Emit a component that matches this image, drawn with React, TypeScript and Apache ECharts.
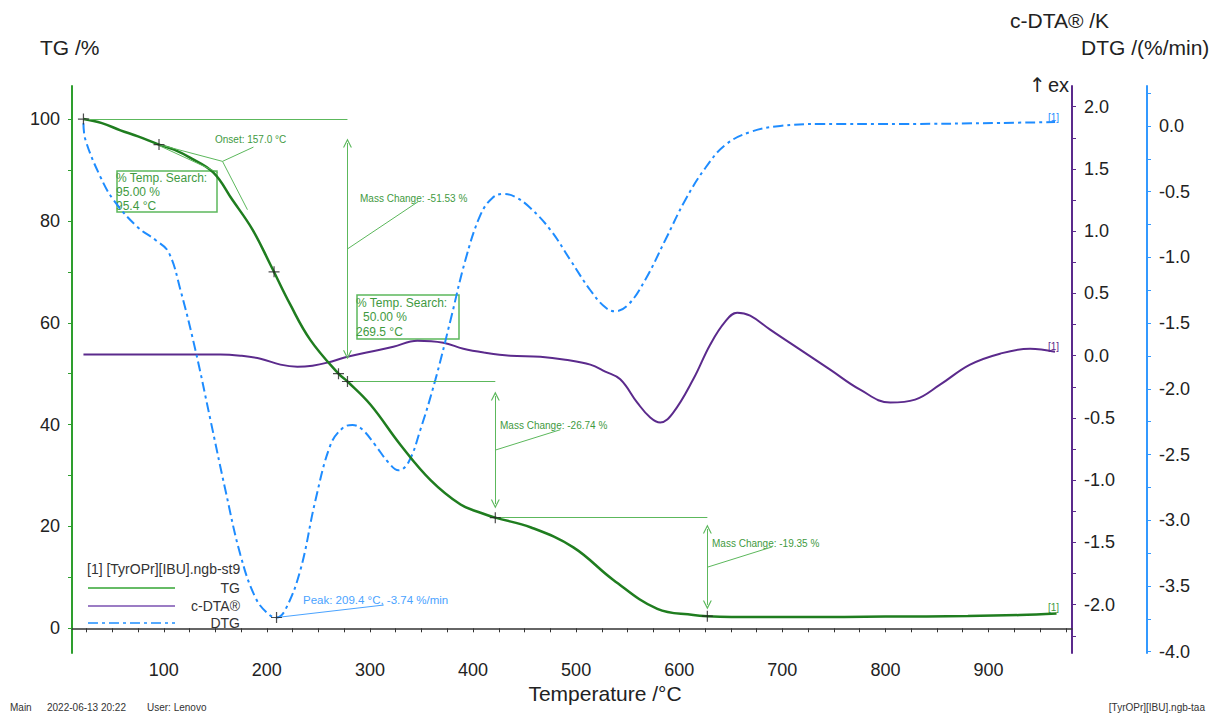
import React, { useEffect, useRef } from "react";
import * as echarts from "echarts";

const FONT = "'Liberation Sans', Arial, Helvetica, sans-serif";

// TG curve: temperature (°C) and residual mass (%)
const tgTemp = [22.1, 40, 58, 75, 95.4, 110, 125.9, 148.2, 166.7, 186.1, 203.5, 222.9, 242.3, 269.5, 278.2, 300.6, 329.7, 358.8, 387.9, 407.3, 421.6, 456.3, 497.3, 536.1, 578.8, 613.7, 627.3, 670, 720, 800, 880, 930, 966];
const tgMass = [100, 99.2, 97.8, 96.6, 95.0, 94.0, 92.4, 89.5, 84.1, 78.3, 71.4, 63.5, 56.6, 50.0, 48.47, 43.9, 36.0, 29.1, 24.3, 22.7, 21.73, 19.8, 15.9, 9.5, 3.8, 2.6, 2.38, 2.2, 2.2, 2.3, 2.4, 2.6, 2.9];

// c-DTA curve: temperature (°C) and signal (K)
const dtaTemp = [22.1, 87.1, 155, 174.4, 193.8, 213.2, 229.6, 244.2, 258.7, 278.1, 300.4, 322.7, 346, 371.2, 390.6, 411.9, 436.1, 465.3, 489.5, 513.8, 528.3, 542.8, 559.3, 571.9, 581.6, 594.2, 613.6, 630, 644.6, 656.2, 668.8, 688.2, 717.3, 746.4, 775.5, 804.6, 828.8, 853, 882.1, 911.2, 940.3, 964.5];
const dtaVal = [0.01, 0.01, 0.01, 0.0, -0.024, -0.072, -0.088, -0.08, -0.056, -0.008, 0.032, 0.072, 0.12, 0.104, 0.056, 0.024, 0.0, -0.008, -0.032, -0.072, -0.128, -0.19, -0.377, -0.497, -0.537, -0.457, -0.19, 0.088, 0.273, 0.345, 0.321, 0.209, 0.048, -0.112, -0.273, -0.377, -0.353, -0.233, -0.072, 0.016, 0.056, 0.032];

// DTG curve: temperature (°C) and mass-loss rate (%/min)
const dtgTemp = [22.1, 24.1, 38.6, 51.3, 74.5, 92, 104.6, 116.2, 130.7, 145.3, 159.8, 174.4, 189, 201.5, 209.4, 218, 232.5, 247.1, 261.6, 273.3, 283, 292.7, 305.3, 317.9, 327.6, 337.3, 349, 363.5, 378.1, 392.6, 407.2, 418.8, 429.4, 441, 455.6, 475, 494.4, 513.8, 528.3, 538, 550.6, 567.1, 586.5, 605.9, 625.3, 644.6, 668.9, 698, 736.7, 814.3, 911.3, 964.6];
const dtgVal = [0.02, -0.107, -0.388, -0.563, -0.769, -0.868, -0.959, -1.248, -1.705, -2.237, -2.77, -3.265, -3.59, -3.714, -3.74, -3.68, -3.38, -2.85, -2.43, -2.3, -2.275, -2.31, -2.43, -2.56, -2.62, -2.56, -2.31, -1.93, -1.48, -1.02, -0.677, -0.548, -0.517, -0.54, -0.624, -0.79, -1.02, -1.25, -1.38, -1.41, -1.36, -1.17, -0.868, -0.563, -0.32, -0.145, -0.046, 0.0, 0.015, 0.015, 0.023, 0.03];

// Evaluation points on TG (temperature, mass)
const tgMarkT = [22.1, 95.4, 207, 269.5, 278.2, 421.6, 627.3];
const tgMarkM = [100, 95.0, 70, 50.0, 48.47, 21.73, 2.38];
// DTG peak
const dtgPeakT = [209.4];
const dtgPeakV = [-3.74];

// Axis tick labels
const tempLabels = [100, 200, 300, 400, 500, 600, 700, 800, 900];
const tgLabels = [0, 20, 40, 60, 80, 100];
const dtaLabels = [-2.0, -1.5, -1.0, -0.5, 0.0, 0.5, 1.0, 1.5, 2.0];
const dtgLabels = [-4.0, -3.5, -3.0, -2.5, -2.0, -1.5, -1.0, -0.5, 0.0];

const zip = (a: number[], b: number[]) => a.map((v, i) => [v, b[i]]);
const steps = (from: number, to: number, step: number) => {
  const out: number[] = [];
  for (let v = from; v <= to + 1e-9; v += step) out.push(+v.toFixed(4));
  return out;
};

const GREEN_DARK = "#1f7d1f";
const GREEN_AXIS = "#2e9e2e";
const GREEN_ANN = "#5cb85c";
const GREEN_TEXT = "#3f9a3f";
const PURPLE = "#5b2a8c";
const BLUE = "#1e8cff";
const BLUE_AXIS = "#3399ff";

const CHEVRON = "path://M0,10 L5,0 L10,10 L8.6,10 L5,2.8 L1.4,10 Z";
const CROSS = "path://M0,4.45 H10 V5.55 H0 Z M4.45,0 H5.55 V10 H4.45 Z";

// Annotation segments on the TG scale: [start, end, arrowheads]
const tgSegments: [number[], number[], boolean][] = [
  [[22.1, 100], [278.2, 100], false],
  [[278.2, 95.3], [278.2, 53.7], true],
  [[278.2, 74.5], [346.9, 83.8], false],
  [[278.2, 48.47], [421.6, 48.47], false],
  [[421.6, 45.6], [421.6, 24.4], true],
  [[421.6, 35.0], [484.7, 39.0], false],
  [[421.6, 21.73], [627.3, 21.73], false],
  [[627.3, 19.5], [627.3, 4.6], true],
  [[627.3, 12.0], [690.3, 16.0], false],
  [[95.4, 95.0], [157.0, 91.7], false],
  [[95.4, 94.8], [152.3, 89.5], false],
  [[157.0, 91.7], [187.0, 94.5], false],
  [[157.0, 91.7], [181.2, 82.2], false],
];
const dtgSegments: [number[], number[], boolean][] = [
  [[209.4, -3.74], [313.4, -3.645], false],
];

const toMarkLine = (segs: [number[], number[], boolean][], color: string) => ({
  silent: true,
  symbolSize: 9,
  label: { show: false },
  lineStyle: { type: "solid", color, width: 1 },
  emphasis: { disabled: true },
  data: segs.map(([a, b, arrows]) => [
    { coord: a, symbol: arrows ? CHEVRON : "none" },
    { coord: b, symbol: arrows ? CHEVRON : "none" },
  ]),
});

const txt = (x: number, y: number, text: string, size: number, fill: string, extra: any = {}) => ({
  type: "text",
  x,
  y,
  silent: true,
  style: { text, fontSize: size, fontFamily: FONT, fill, textVerticalAlign: "middle", ...extra },
});

export default function App() {
  const ref = useRef<HTMLDivElement>(null);

  useEffect(() => {
    const chart = echarts.init(ref.current!, null, { renderer: "svg" });

    const tickLabel = { fontSize: 18, fontFamily: FONT, color: "#222" };

    const option: any = {
      animation: false,
      backgroundColor: "#fff",
      grid: { left: 72, right: 151, top: 86, bottom: 63 },
      xAxis: {
        type: "value",
        min: 11,
        max: 981,
        splitLine: { show: false },
        axisLine: { lineStyle: { color: "#333", width: 1.5 } },
        axisTick: { length: 4, lineStyle: { color: "#333" }, customValues: steps(25, 975, 25) },
        axisLabel: { ...tickLabel, margin: 8, customValues: tempLabels },
      },
      yAxis: [
        {
          type: "value",
          position: "left",
          min: -4.85,
          max: 106.5,
          splitLine: { show: false },
          axisLine: { show: true, lineStyle: { color: GREEN_AXIS, width: 2 } },
          axisTick: { length: 4, lineStyle: { color: GREEN_AXIS }, customValues: steps(0, 100, 10) },
          axisLabel: { ...tickLabel, margin: 12, customValues: tgLabels },
        },
        {
          type: "value",
          position: "right",
          offset: 0,
          min: -2.388,
          max: 2.166,
          splitLine: { show: false },
          axisLine: { show: true, lineStyle: { color: PURPLE, width: 2 } },
          axisTick: { length: 4, lineStyle: { color: PURPLE }, customValues: steps(-2.25, 2.0, 0.25) },
          axisLabel: { ...tickLabel, margin: 12, customValues: dtaLabels, formatter: (v: number) => v.toFixed(1) },
        },
        {
          type: "value",
          position: "right",
          offset: 75,
          min: -4.01,
          max: 0.304,
          splitLine: { show: false },
          axisLine: { show: true, lineStyle: { color: BLUE_AXIS, width: 2 } },
          axisTick: { length: 4, lineStyle: { color: BLUE_AXIS }, customValues: steps(-4.0, 0.25, 0.25) },
          axisLabel: { ...tickLabel, margin: 12, customValues: dtgLabels, formatter: (v: number) => v.toFixed(1) },
        },
      ],
      series: [
        {
          name: "c-DTA®",
          type: "line",
          yAxisIndex: 1,
          data: zip(dtaTemp, dtaVal),
          smooth: 0.4,
          symbol: "none",
          lineStyle: { color: PURPLE, width: 2 },
          z: 2,
        },
        {
          name: "DTG",
          type: "line",
          yAxisIndex: 2,
          data: zip(dtgTemp, dtgVal),
          smooth: 0.4,
          symbol: "none",
          lineStyle: { color: BLUE, width: 2, type: [10, 4, 3, 4] },
          markLine: toMarkLine(dtgSegments, "#4aa3ff"),
          z: 3,
        },
        {
          name: "TG",
          type: "line",
          yAxisIndex: 0,
          data: zip(tgTemp, tgMass),
          smooth: 0.4,
          symbol: "none",
          lineStyle: { color: GREEN_DARK, width: 2.5 },
          markLine: toMarkLine(tgSegments, GREEN_ANN),
          z: 4,
        },
        {
          name: "TG points",
          type: "scatter",
          yAxisIndex: 0,
          data: zip(tgMarkT, tgMarkM),
          symbol: CROSS,
          symbolSize: 11,
          itemStyle: { color: "#222" },
          silent: true,
          z: 6,
        },
        {
          name: "DTG peak",
          type: "scatter",
          yAxisIndex: 2,
          data: zip(dtgPeakT, dtgPeakV),
          symbol: CROSS,
          symbolSize: 11,
          itemStyle: { color: "#222" },
          silent: true,
          z: 6,
        },
      ],
      graphic: [
        // axis titles
        txt(40, 47, "TG /%", 21, "#222"),
        txt(1010, 20, "c-DTA® /K", 21, "#222"),
        txt(1081, 47, "DTG /(%/min)", 21, "#222"),
        txt(1029, 85, "↑", 20, "#222", { fontFamily: "'DejaVu Sans', sans-serif" }),
        txt(1048, 85, "ex", 20, "#222"),
        txt(605, 693, "Temperature /°C", 21, "#222", { textAlign: "center" }),
        // curve tags
        txt(1048, 607, "[1]", 10, GREEN_TEXT),
        txt(1048, 346, "[1]", 10, PURPLE),
        txt(1048, 117, "[1]", 10, BLUE),
        // evaluation texts
        txt(215, 139, "Onset: 157.0 °C", 10, GREEN_TEXT),
        {
          type: "rect",
          silent: true,
          shape: { x: 117, y: 171, width: 100, height: 41 },
          style: { fill: "none", stroke: GREEN_ANN, lineWidth: 1.5 },
        },
        txt(116, 178, "% Temp. Search:", 12, GREEN_TEXT),
        txt(116, 192, "95.00 %", 12, GREEN_TEXT),
        txt(116, 206, "95.4 °C", 12, GREEN_TEXT),
        {
          type: "rect",
          silent: true,
          shape: { x: 357, y: 295, width: 102, height: 44 },
          style: { fill: "#fff", stroke: GREEN_ANN, lineWidth: 1.5 },
        },
        txt(356, 303, "% Temp. Search:", 12, GREEN_TEXT),
        txt(363, 317, "50.00 %", 12, GREEN_TEXT),
        txt(356, 332, "269.5 °C", 12, GREEN_TEXT),
        txt(360, 198, "Mass Change: -51.53 %", 10, GREEN_TEXT),
        txt(500, 425, "Mass Change: -26.74 %", 10, GREEN_TEXT),
        txt(712, 543, "Mass Change: -19.35 %", 10, GREEN_TEXT),
        txt(303, 600, "Peak: 209.4 °C, -3.74 %/min", 11.5, "#4aa3ff"),
        // legend
        txt(87, 569, "[1] [TyrOPr][IBU].ngb-st9", 14, "#333"),
        { type: "line", silent: true, shape: { x1: 88, y1: 588, x2: 175, y2: 588 }, style: { stroke: "#66bb66", lineWidth: 2 } },
        txt(240, 588, "TG", 14, "#333", { textAlign: "right" }),
        { type: "line", silent: true, shape: { x1: 88, y1: 606, x2: 175, y2: 606 }, style: { stroke: "#9b7cc4", lineWidth: 2 } },
        txt(240, 606, "c-DTA®", 14, "#333", { textAlign: "right" }),
        { type: "line", silent: true, shape: { x1: 88, y1: 623, x2: 175, y2: 623 }, style: { stroke: "#55aaff", lineWidth: 2, lineDash: [10, 4, 3, 4] } },
        txt(240, 623, "DTG", 14, "#333", { textAlign: "right" }),
        // footer
        txt(10, 707, "Main", 10, "#333"),
        txt(47, 707, "2022-06-13 20:22", 10, "#333"),
        txt(147, 707, "User: Lenovo", 10, "#333"),
        txt(1205, 707, "[TyrOPr][IBU].ngb-taa", 10, "#333", { textAlign: "right" }),
      ],
    };

    chart.setOption(option);
    return () => chart.dispose();
  }, []);

  return (
    <div
      ref={ref}
      style={{ position: "absolute", left: 0, top: 0, width: 1223, height: 716, background: "#fff" }}
    />
  );
}
